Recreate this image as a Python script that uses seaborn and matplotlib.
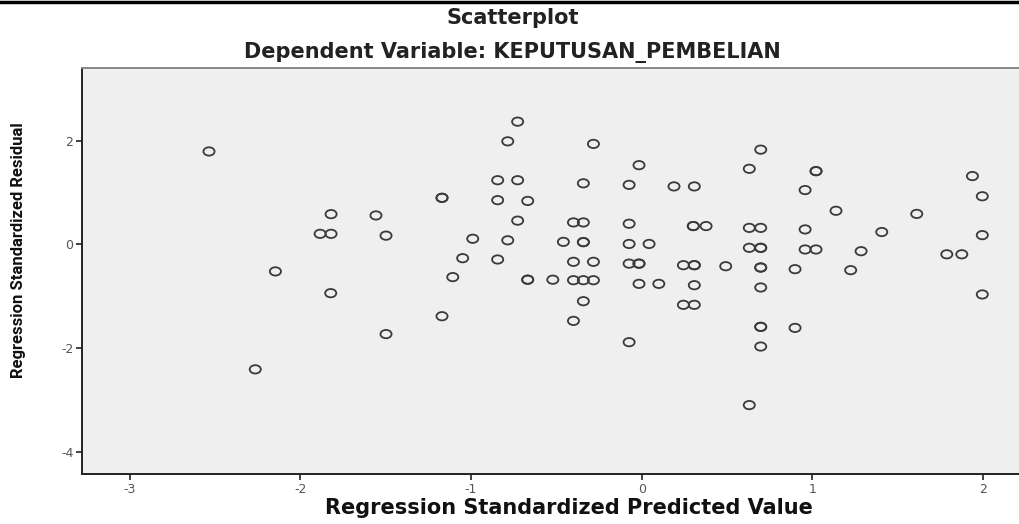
import matplotlib
matplotlib.use("Agg")
import matplotlib.pyplot as plt
from matplotlib.lines import Line2D
from matplotlib.markers import MarkerStyle
from matplotlib.path import Path
from matplotlib.transforms import Affine2D
import pandas as pd
import seaborn as sns

# values (duplicates = bold, overlapping markers)
pred = [
    -2.535, -1.820, -1.884, -1.820, -2.146, -1.822, -2.264,
    -0.727, -0.785, -0.283, -0.016, -0.844, -0.727, -0.342, -0.074, 0.189, 0.308,
    -1.170, -1.170, -0.844, -0.668, -1.557, -1.498, -0.727, -0.400, -0.342, -0.074,
    -0.990, -0.785, -0.459, -0.342, -0.342, -0.074, 0.043,
    -1.049, -0.844, -0.400, -0.283, -0.074, -0.016, -0.016,
    -1.107, -0.668, -0.668, -0.521, -0.400, -0.342, -0.283, -0.016, 0.100,
    -0.342, -1.170, -0.400, -1.498, -0.074,
    0.697, 0.630, 1.021, 1.021, 0.957, 1.937, 1.995, 1.138, 1.611,
    0.302, 0.302, 0.377, 0.630, 0.697, 0.957, 1.406, 1.995,
    0.630, 0.697, 0.697, 0.957, 1.021, 1.285, 1.787, 1.875,
    0.244, 0.308, 0.308, 0.492, 0.697, 0.697, 0.898, 1.224,
    0.308, 0.697, 0.244, 0.308, 1.995, 0.697, 0.697, 0.898, 0.697, 0.630,
]
resid = [
    1.795, 0.585, 0.205, 0.205, -0.520, -0.940, -2.410,
    2.370, 1.990, 1.940, 1.530, 1.240, 1.240, 1.180, 1.150, 1.120, 1.120,
    0.900, 0.900, 0.855, 0.840, 0.560, 0.170, 0.460, 0.425, 0.425, 0.400,
    0.110, 0.080, 0.050, 0.045, 0.045, 0.010, 0.010,
    -0.265, -0.290, -0.335, -0.335, -0.370, -0.370, -0.370,
    -0.630, -0.680, -0.680, -0.680, -0.690, -0.690, -0.690, -0.760, -0.760,
    -1.095, -1.385, -1.475, -1.730, -1.886,
    1.830, 1.460, 1.415, 1.415, 1.050, 1.320, 0.930, 0.650, 0.590,
    0.355, 0.355, 0.355, 0.320, 0.320, 0.290, 0.240, 0.180,
    -0.065, -0.065, -0.065, -0.097, -0.097, -0.130, -0.190, -0.190,
    -0.400, -0.400, -0.400, -0.420, -0.445, -0.445, -0.477, -0.496,
    -0.786, -0.830, -1.165, -1.165, -0.965, -1.590, -1.590, -1.610, -1.970, -3.100,
]
x_ticks = [-3, -2, -1, 0, 1, 2]
y_ticks = [-4, -2, 0, 2]

df = pd.DataFrame({"pred": pred, "resid": resid})

sns.set_style("white")
plt.rcParams["font.family"] = ["DejaVu Sans"]
plt.rcParams["axes.unicode_minus"] = False

# the source screenshot is stretched sideways, so the circles are a bit flat
flat_circle = MarkerStyle(Path.unit_circle().transformed(Affine2D().scale(1.0, 0.75)))

fig = plt.figure(figsize=(10.19, 5.24), dpi=100)
ax = fig.add_axes([0.0808, 0.0954, 0.9192, 0.7743])
ax.set_facecolor("#efefef")

sns.scatterplot(data=df, x="pred", y="resid", ax=ax, marker=flat_circle, s=64,
                facecolor="none", edgecolor="#3a3a3a", linewidth=1.3)

ax.set_xlim(-3.277, 2.21)
ax.set_ylim(-4.43, 3.40)
ax.set_xticks(x_ticks)
ax.set_yticks(y_ticks)
ax.tick_params(axis="both", direction="out", length=4.5, width=1.2,
               color="#222222", labelcolor="#555555", labelsize=9, pad=2,
               bottom=True, left=True)

for side in ["left", "bottom"]:
    ax.spines[side].set_color("#222222")
    ax.spines[side].set_linewidth(1.4)
ax.spines["top"].set_color("#888888")
ax.spines["top"].set_linewidth(1.4)
ax.spines["right"].set_visible(False)

ax.set_xlabel("Regression Standardized Predicted Value",
              fontweight="bold", fontsize=15, color="#111111", va="center")
ax.xaxis.set_label_coords(0.52, -0.084)
ax.set_ylabel("Regression Standardized Residual", family=["Roboto", "DejaVu Sans"],
              fontweight="bold", fontsize=12, color="#111111", va="center")
ax.yaxis.set_label_coords(-0.0686, 0.552)

fig.text(0.503, 0.966, "Scatterplot", ha="center", va="center",
         fontsize=15, fontweight="bold", color="#222222")
fig.text(0.503, 0.900, "Dependent Variable: KEPUTUSAN_PEMBELIAN", ha="center",
         va="center", fontsize=15, fontweight="bold", color="#222222")

# dark rule along the top edge of the screenshot
fig.add_artist(Line2D([0, 1], [0.997, 0.997], transform=fig.transFigure,
                      color="black", linewidth=2.5))

fig.savefig("out.png", dpi=100)
